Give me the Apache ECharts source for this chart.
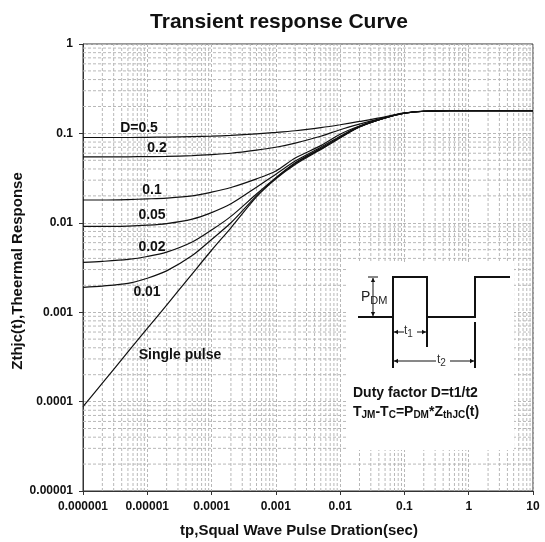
<!DOCTYPE html>
<html>
<head>
<meta charset="utf-8">
<script src="https://cdn.jsdelivr.net/npm/echarts@6/dist/echarts.min.js"></script>
<style>
  html, body { margin: 0; padding: 0; background: #fff; }
  #chart { width: 545px; height: 542px; }
</style>
</head>
<body>
<div id="chart"></div>
<script>
// Pulse duration (s) sample points
const tp = [1e-6, 2e-6, 5e-6, 1e-5, 2e-5, 5e-5, 1e-4, 2e-4, 5e-4, 1e-3, 2e-3, 5e-3,
            1e-2, 2e-2, 5e-2, 0.1, 0.2, 0.5, 1, 2, 5, 10];

// Normalised transient thermal impedance for each duty factor
const zD05    = [0.090, 0.090, 0.090, 0.0905, 0.091, 0.092, 0.093, 0.095, 0.099, 0.1025, 0.107, 0.116,
                 0.125, 0.136, 0.153, 0.170, 0.177, 0.180, 0.180, 0.180, 0.180, 0.180];
const zD02    = [0.0545, 0.0545, 0.0547, 0.055, 0.0553, 0.0565, 0.058, 0.060, 0.065, 0.070, 0.078, 0.093,
                 0.110, 0.127, 0.151, 0.169, 0.177, 0.180, 0.180, 0.180, 0.180, 0.180];
const zD01    = [0.018, 0.018, 0.0182, 0.0185, 0.0189, 0.020, 0.022, 0.0248, 0.031, 0.038, 0.053, 0.073,
                 0.098, 0.121, 0.150, 0.169, 0.177, 0.180, 0.180, 0.180, 0.180, 0.180];
const zD005   = [0.0091, 0.0091, 0.0092, 0.0094, 0.0098, 0.0110, 0.0130, 0.0163, 0.025, 0.035, 0.049, 0.070,
                 0.093, 0.120, 0.149, 0.168, 0.177, 0.180, 0.180, 0.180, 0.180, 0.180];
const zD002   = [0.0036, 0.0037, 0.0039, 0.0042, 0.0047, 0.0061, 0.0083, 0.0118, 0.021, 0.032, 0.047, 0.068,
                 0.091, 0.119, 0.149, 0.168, 0.177, 0.180, 0.180, 0.180, 0.180, 0.180];
const zD001   = [0.0019, 0.00196, 0.0021, 0.0024, 0.0029, 0.0043, 0.0065, 0.0100, 0.020, 0.0315, 0.046, 0.067,
                 0.090, 0.118, 0.149, 0.168, 0.177, 0.180, 0.180, 0.180, 0.180, 0.180];
const zSingle = [8.8e-5, 1.61e-4, 3.59e-4, 6.58e-4, 1.2e-3, 2.69e-3, 4.93e-3, 8.8e-3, 0.0195, 0.031, 0.045, 0.066,
                 0.089, 0.118, 0.149, 0.168, 0.177, 0.180, 0.180, 0.180, 0.180, 0.180];

const curveNames = ['D=0.5', '0.2', '0.1', '0.05', '0.02', '0.01', 'Single pulse'];
const curveData = [zD05, zD02, zD01, zD005, zD002, zD001, zSingle];

// Tick labels per decade
const xTickLabels = ['0.000001', '0.00001', '0.0001', '0.001', '0.01', '0.1', '1', '10'];
const yTickLabels = ['0.00001', '0.0001', '0.001', '0.01', '0.1', '1'];

const X_MIN_EXP = -6, X_MAX_EXP = 1;
const Y_MIN_EXP = -5, Y_MAX_EXP = 0;
const X_MIN = Math.pow(10, X_MIN_EXP), X_MAX = Math.pow(10, X_MAX_EXP);
const Y_MIN = Math.pow(10, Y_MIN_EXP), Y_MAX = Math.pow(10, Y_MAX_EXP);

// Minor grid positions: 2..9 within each decade
function minorValues(lo, hi) {
  const out = [];
  for (let e = lo; e < hi; e++) {
    for (let m = 2; m <= 9; m++) out.push(m * Math.pow(10, e));
  }
  return out;
}
const minorX = minorValues(X_MIN_EXP, X_MAX_EXP);
const minorY = minorValues(Y_MIN_EXP, Y_MAX_EXP);

const FONT = 'Liberation Sans, Arial, sans-serif';
const gridLineStyle = { color: '#b8b8b8', width: 1, type: [3, 2] };

const chart = echarts.init(document.getElementById('chart'), null, { renderer: 'canvas' });

const series = [];

// Minor grid lines, drawn as plain segments through the axes
function gridSeries(points) {
  return {
    type: 'line', data: points, showSymbol: false, silent: true, z: 1,
    lineStyle: gridLineStyle, emphasis: { disabled: true }, tooltip: { show: false }
  };
}
minorX.forEach(v => series.push(gridSeries([[v, Y_MIN], [v, Y_MAX]])));
minorY.forEach(v => series.push(gridSeries([[X_MIN, v], [X_MAX, v]])));

curveData.forEach((arr, i) => {
  series.push({
    type: 'line',
    name: curveNames[i],
    data: tp.map((t, k) => [t, arr[k]]),
    showSymbol: false,
    smooth: 0.3,
    lineStyle: { color: '#111', width: 1.2 },
    z: 3
  });
});

function decadeLabel(labels, minExp) {
  return function (v) {
    const e = Math.round(Math.log10(v));
    return labels[e - minExp] || '';
  };
}

// Curve captions
const captions = [
  { text: 'D=0.5', x: 139, y: 128 },
  { text: '0.2', x: 157, y: 148 },
  { text: '0.1', x: 152, y: 190 },
  { text: '0.05', x: 152, y: 215 },
  { text: '0.02', x: 152, y: 247 },
  { text: '0.01', x: 147, y: 292 },
  { text: 'Single pulse', x: 180, y: 355 }
];

const boldText = (text, x, y, size, align) => ({
  type: 'text', x, y, z: 100, silent: true,
  style: { text, fill: '#111', font: 'bold ' + size + 'px ' + FONT, textAlign: align || 'center', textVerticalAlign: 'middle' }
});

function line(x1, y1, x2, y2, w) {
  return { type: 'line', z: 101, silent: true, shape: { x1, y1, x2, y2 }, style: { stroke: '#111', lineWidth: w || 2 } };
}
function arrowHead(x, y, dir) {
  // dir: 'l','r','u','d' -> tip at (x,y)
  const s = 4, h = 2.2;
  let pts;
  if (dir === 'l') pts = [[x, y], [x + s, y - h], [x + s, y + h]];
  else if (dir === 'r') pts = [[x, y], [x - s, y - h], [x - s, y + h]];
  else if (dir === 'u') pts = [[x, y], [x - h, y + s], [x + h, y + s]];
  else pts = [[x, y], [x - h, y - s], [x + h, y - s]];
  return { type: 'polygon', z: 101, silent: true, shape: { points: pts }, style: { fill: '#111' } };
}

const inset = [
  { type: 'rect', z: 99, silent: true, shape: { x: 347, y: 262, width: 167, height: 188 }, style: { fill: '#fff' } },
  { type: 'polyline', z: 101, silent: true,
    shape: { points: [[358, 317], [393, 317], [393, 277], [427, 277], [427, 317], [475, 317], [475, 277], [510, 277]] },
    style: { stroke: '#111', lineWidth: 2, fill: null } },
  line(393, 317, 393, 368),
  line(427, 317, 427, 347),
  line(475, 322, 475, 368),
  // t1 dimension
  line(394, 332, 404, 332, 1), line(417, 332, 426, 332, 1),
  arrowHead(394, 332, 'l'), arrowHead(426, 332, 'r'),
  // t2 dimension
  line(394, 361, 436, 361, 1), line(450, 361, 474, 361, 1),
  arrowHead(394, 361, 'l'), arrowHead(474, 361, 'r'),
  // P_DM dimension
  line(373, 278, 373, 316, 1), line(368, 277, 378, 277, 1),
  arrowHead(373, 278, 'u'), arrowHead(373, 316, 'd'),
  { type: 'text', z: 102, silent: true, x: 361, y: 297,
    style: { text: '{p|P}{s|DM}', font: '13px ' + FONT, fill: '#222', textVerticalAlign: 'middle',
      rich: { p: { fontSize: 14, fontFamily: FONT, fill: '#222' }, s: { fontSize: 11, fontFamily: FONT, fill: '#222', padding: [7, 0, 0, 0] } } } },
  { type: 'text', z: 102, silent: true, x: 404, y: 331,
    style: { text: '{p|t}{s|1}', textVerticalAlign: 'middle',
      rich: { p: { fontSize: 12, fontFamily: FONT, fill: '#333' }, s: { fontSize: 10, fontFamily: FONT, fill: '#333', padding: [6, 0, 0, 0] } } } },
  { type: 'text', z: 102, silent: true, x: 437, y: 360,
    style: { text: '{p|t}{s|2}', textVerticalAlign: 'middle',
      rich: { p: { fontSize: 12, fontFamily: FONT, fill: '#333' }, s: { fontSize: 10, fontFamily: FONT, fill: '#333', padding: [6, 0, 0, 0] } } } },
  { type: 'text', z: 102, silent: true, x: 353, y: 393,
    style: { text: 'Duty factor D=t1/t2', font: 'bold 14px ' + FONT, fill: '#111', textVerticalAlign: 'middle' } },
  { type: 'text', z: 102, silent: true, x: 353, y: 412,
    style: { text: '{a|T}{s|JM}{a|-T}{s|C}{a|=P}{s|DM}{a|*Z}{s|thJC}{a|(t)}', textVerticalAlign: 'middle',
      rich: {
        a: { fontSize: 14, fontWeight: 'bold', fontFamily: FONT, fill: '#111' },
        s: { fontSize: 10, fontWeight: 'bold', fontFamily: FONT, fill: '#111', padding: [6, 0, 0, 0] }
      } } }
];

const option = {
  animation: false,
  backgroundColor: '#fff',
  grid: { left: 83, right: 12, top: 44, bottom: 51, show: true, borderColor: '#333', borderWidth: 1, backgroundColor: 'transparent' },
  xAxis: {
    type: 'log', logBase: 10, min: X_MIN, max: X_MAX, splitNumber: 7,
    axisLine: { show: true, onZero: false, lineStyle: { color: '#333', width: 1 } },
    axisTick: { show: true, length: 4, lineStyle: { color: '#333' } },
    axisLabel: { color: '#111', fontFamily: FONT, fontWeight: 'bold', fontSize: 12, margin: 10,
      formatter: decadeLabel(xTickLabels, X_MIN_EXP), showMinLabel: true, showMaxLabel: true },
    splitLine: { show: true, lineStyle: gridLineStyle }
  },
  yAxis: {
    type: 'log', logBase: 10, min: Y_MIN, max: Y_MAX, splitNumber: 5,
    axisLine: { show: true, onZero: false, lineStyle: { color: '#333', width: 1 } },
    axisTick: { show: true, length: 4, lineStyle: { color: '#333' } },
    axisLabel: { color: '#111', fontFamily: FONT, fontWeight: 'bold', fontSize: 12, margin: 10,
      formatter: decadeLabel(yTickLabels, Y_MIN_EXP), showMinLabel: true, showMaxLabel: true },
    splitLine: { show: true, lineStyle: gridLineStyle }
  },
  graphic: [
    boldText('Transient response Curve', 279, 22, 21),
    boldText('tp,Squal Wave Pulse Dration(sec)', 299, 531, 15),
    Object.assign(boldText('Zthjc(t),Theermal Response', 18, 271, 15), { rotation: Math.PI / 2 })
  ].concat(captions.map(c => boldText(c.text, c.x, c.y, 14))).concat(inset),
  series
};

chart.setOption(option);
</script>
</body>
</html>
